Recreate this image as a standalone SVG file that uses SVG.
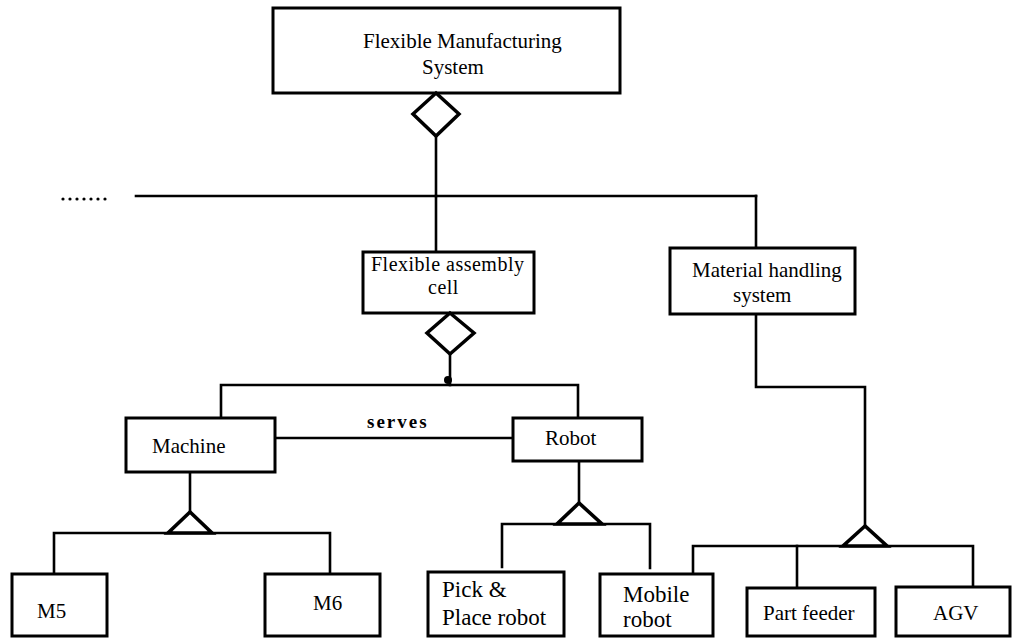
<svg xmlns="http://www.w3.org/2000/svg" width="1021" height="639" viewBox="0 0 1021 639">
  <style>
    .box { fill: #fff; stroke: #000; stroke-width: 3; }
    .ln { fill: none; stroke: #000; stroke-width: 2.6; stroke-linejoin: miter; stroke-linecap: square; }
    .agg { fill: #fff; stroke: #000; stroke-width: 3.5; }
    .gen { fill: #fff; stroke: #000; stroke-width: 3.6; stroke-linejoin: miter; }
    .lbl { font-family: "Liberation Serif", "DejaVu Serif", serif; font-size: 21px; fill: #000; }
    .big { font-size: 23px; }
    .sm { font-size: 20px; letter-spacing: 0.5px; }
    .rel { font-weight: bold; font-size: 19px; letter-spacing: 2px; }
  </style>
  <rect width="1021" height="639" fill="#fff"/>

  <!-- connectors -->
  <g id="connectors">
    <!-- FMS aggregation -->
    <line class="ln" x1="436" y1="136" x2="436" y2="196"/>
    <line class="ln" x1="136" y1="196" x2="756" y2="196" stroke-width="3"/>
    <line class="ln" x1="436" y1="196" x2="436" y2="252"/>
    <line class="ln" x1="756" y1="196" x2="756" y2="248"/>
    <!-- continuation dots -->
    <g fill="#000">
      <circle cx="63" cy="199" r="1.6"/>
      <circle cx="70" cy="199" r="1.6"/>
      <circle cx="77" cy="199" r="1.6"/>
      <circle cx="84" cy="199" r="1.6"/>
      <circle cx="91" cy="199" r="1.6"/>
      <circle cx="98" cy="199" r="1.6"/>
      <circle cx="105" cy="199" r="1.6"/>
    </g>
    <!-- assembly cell aggregation -->
    <line class="ln" x1="450" y1="354" x2="450" y2="385"/>
    <circle cx="448" cy="380" r="4" fill="#000"/>
    <polyline class="ln" points="221,418 221,385 578,385 578,418"/>
    <!-- serves association -->
    <line class="ln" x1="275" y1="438" x2="513" y2="438"/>
    <text class="lbl rel" x="367" y="428">serves</text>
    <!-- Machine generalisation -->
    <line class="ln" x1="190" y1="472" x2="190" y2="512"/>
    <polyline class="ln" points="54,574 54,533 330,533 330,574"/>
    <polygon class="gen" points="190,512 168,533 212,533"/>
    <!-- Robot generalisation -->
    <line class="ln" x1="579" y1="461" x2="579" y2="503"/>
    <polyline class="ln" points="502,567 502,524 650,524 650,568"/>
    <polygon class="gen" points="579,503 557,524 602,524"/>
    <!-- material handling generalisation -->
    <polyline class="ln" points="756,314 756,387 865,387 865,526"/>
    <polyline class="ln" points="693,574 693,546 973,546 973,587"/>
    <line class="ln" x1="797" y1="546" x2="797" y2="588"/>
    <polygon class="gen" points="865,526 843,546 887,546"/>
  </g>

  <!-- nodes -->
  <g id="fms">
    <rect class="box" x="273" y="8" width="347" height="85"/>
    <text class="lbl" x="363" y="48">Flexible Manufacturing</text>
    <text class="lbl" x="422" y="74">System</text>
    <polygon class="agg" points="436,93 459,114 436,136 413,114"/>
  </g>

  <g id="assembly-cell">
    <rect class="box" x="363" y="252" width="171" height="61"/>
    <text class="lbl sm" x="371" y="271">Flexible assembly</text>
    <text class="lbl sm" x="428" y="294">cell</text>
    <polygon class="agg" points="450,313 474,333 450,354 427,333"/>
  </g>

  <g id="material-handling">
    <rect class="box" x="670" y="248" width="185" height="66"/>
    <text class="lbl" x="692" y="277">Material handling</text>
    <text class="lbl" x="733" y="302">system</text>
  </g>

  <g id="machine">
    <rect class="box" x="126" y="418" width="149" height="54"/>
    <text class="lbl" x="152" y="453">Machine</text>
  </g>

  <g id="robot">
    <rect class="box" x="513" y="418" width="129" height="43"/>
    <text class="lbl" x="545" y="445">Robot</text>
  </g>

  <g id="m5">
    <rect class="box" x="12" y="574" width="95" height="62"/>
    <text class="lbl" x="37" y="618">M5</text>
  </g>

  <g id="m6">
    <rect class="box" x="265" y="574" width="115" height="62"/>
    <text class="lbl" x="313" y="610">M6</text>
  </g>

  <g id="pick-place-robot">
    <rect class="box" x="428" y="572" width="136" height="64"/>
    <text class="lbl big" x="442" y="597">Pick &amp;</text>
    <text class="lbl big" x="442" y="625">Place robot</text>
  </g>

  <g id="mobile-robot">
    <rect class="box" x="600" y="574" width="113" height="62"/>
    <text class="lbl big" x="623" y="602">Mobile</text>
    <text class="lbl big" x="623" y="627">robot</text>
  </g>

  <g id="part-feeder">
    <rect class="box" x="747" y="588" width="128" height="48"/>
    <text class="lbl" x="763" y="620">Part feeder</text>
  </g>

  <g id="agv">
    <rect class="box" x="896" y="587" width="114" height="49"/>
    <text class="lbl" x="933" y="620">AGV</text>
  </g>
</svg>
